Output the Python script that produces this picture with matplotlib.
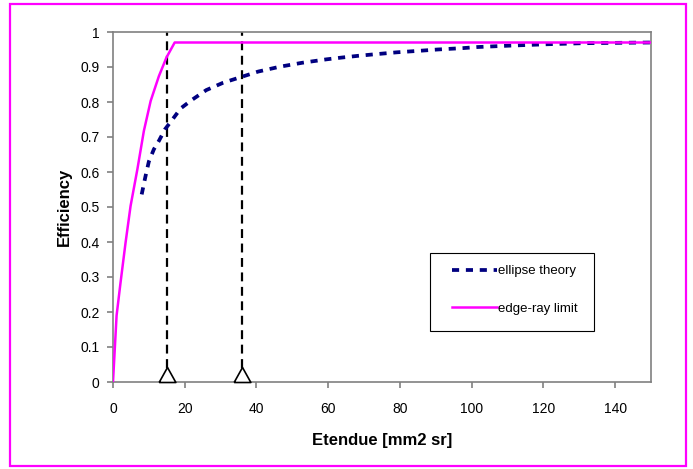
import matplotlib
matplotlib.use("Agg")
import matplotlib.pyplot as plt
from matplotlib.patches import Rectangle

plt.rcParams['font.family'] = ['Liberation Sans', 'DejaVu Sans']

# Data
ellipse_x = [8, 9, 10, 11.4, 12.8, 14.5, 16.5, 18.9, 22, 26, 30.7, 35.9, 40.5, 46.6,
             52.7, 59.6, 63.8, 68.4, 72.6, 79.2, 86.4, 90.5, 97.6, 101.5, 110.5, 121,
             131, 150]
ellipse_y = [0.536, 0.585, 0.63, 0.665, 0.689, 0.722, 0.749, 0.782, 0.806, 0.834, 0.855,
             0.872, 0.887, 0.901, 0.912, 0.922, 0.927, 0.932, 0.936, 0.942, 0.947, 0.950,
             0.954, 0.957, 0.961, 0.965, 0.968, 0.97]
edge_x = [0, 1.0, 2.1, 3.5, 4.9, 6.8, 8.6, 10.5, 12.8, 14.9, 17.2, 150]
edge_y = [0, 0.19, 0.284, 0.398, 0.503, 0.608, 0.717, 0.803, 0.874, 0.927, 0.97, 0.97]
marker_x = [15, 36]
marker_top = 0.04
x_ticks = [0, 20, 40, 60, 80, 100, 120, 140]
y_ticks = [0, 0.1, 0.2, 0.3, 0.4, 0.5, 0.6, 0.7, 0.8, 0.9, 1]
y_tick_labels = ['0', '0.1', '0.2', '0.3', '0.4', '0.5', '0.6', '0.7', '0.8', '0.9', '1']

W, H = 693, 469
fig = plt.figure(figsize=(W / 100, H / 100), dpi=100)
ax = fig.add_axes([113 / W, 1 - 382 / H, (651 - 113) / W, (382 - 32) / H])

grey = '#808080'
for s in ax.spines.values():
    s.set_color(grey)
    s.set_linewidth(1.2)

ax.set_xlim(0, 150)
ax.set_ylim(0, 1)
ax.set_xticks(x_ticks)
ax.set_xticklabels([str(t) for t in x_ticks])
ax.set_yticks(y_ticks)
ax.set_yticklabels(y_tick_labels)
ax.tick_params(axis='both', direction='out', length=4.3, width=1.2, color=grey,
               labelsize=10, labelcolor='black')
ax.tick_params(axis='x', pad=10)
ax.tick_params(axis='y', pad=5.5)

# vertical dashed lines
for xv in marker_x:
    ax.plot([xv, xv], [marker_top, 1], color='black', lw=1.6, dashes=(4, 2.5), zorder=2)

l1, = ax.plot(ellipse_x, ellipse_y, color='#000080', lw=2.7, dashes=(1.9, 1.8),
              label='ellipse theory', zorder=3, dash_capstyle='butt')
l2, = ax.plot(edge_x, edge_y, color='#FF00FF', lw=1.8, label='edge-ray limit', zorder=3)

# triangles
tri = [(-1, 0), (1, 0), (0, 1.8), (-1, 0)]
ax.scatter(marker_x, [0] * len(marker_x), marker=tri, s=470, facecolor='white',
           edgecolor='black', linewidths=1.2, zorder=5, clip_on=False)

ax.set_xlabel('Etendue [mm2 sr]', fontsize=12, fontweight='bold', labelpad=12)
ax.set_ylabel('Efficiency', fontsize=12, fontweight='bold', labelpad=6)

leg = ax.legend(handles=[l1, l2], loc='upper left',
                bbox_to_anchor=(452 / W, 1 - 265 / H), bbox_transform=fig.transFigure,
                frameon=False, fontsize=9.5, handlelength=3.4, handletextpad=0.1,
                labelspacing=1.9, borderpad=0, borderaxespad=0)

# legend frame
fig.patches.append(Rectangle((430 / W, 1 - 331 / H), (594 - 430) / W, (331 - 253) / H,
                             transform=fig.transFigure, fill=False, edgecolor='black',
                             lw=0.8, figure=fig, zorder=10))

# outer magenta border
fig.patches.append(Rectangle((9.5 / W, 1 - 466 / H), (686 - 9.5) / W, (466 - 4.5) / H,
                             transform=fig.transFigure, fill=False, edgecolor='#FF00FF',
                             lw=1.6, figure=fig))

fig.savefig('out.png', dpi=100)
